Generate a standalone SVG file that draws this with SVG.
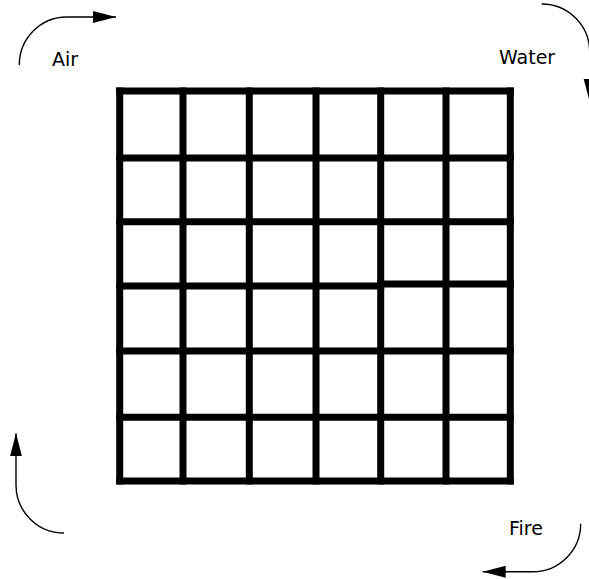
<svg xmlns="http://www.w3.org/2000/svg" width="589" height="579" viewBox="0 0 589 579">
<style>
.grid{stroke:#000;stroke-width:7;fill:none;stroke-linecap:square}
.arrow{stroke:#000;stroke-width:1.4;fill:none;marker-end:url(#ah)}
.label{font-family:"DejaVu Sans",sans-serif;font-size:19px;fill:#000}
</style>
<defs>
<marker id="ah" markerUnits="userSpaceOnUse" markerWidth="24" markerHeight="14" refX="23" refY="6.5" orient="auto">
<path d="M0,0.5 L23,6.5 L0,12.5 Z" fill="#000"/>
</marker>
</defs>
<rect width="589" height="579" fill="#fff"/>
<g id="grid" class="grid">
<path d="M119.7,91 V481 M183,91 V481 M249.3,91 V481 M316,91 V481 M380.7,91 V481 M446,91 V481 M510.3,91 V481"/>
<path d="M119.7,91 H510.3 M119.7,158 H510.3 M119.7,221.7 H510.3 M119.7,286 H380.7 M380.7,284 H510.3 M119.7,351 H510.3 M119.7,417.3 H510.3 M119.7,481 H510.3"/>
</g>
<g id="connectors">
<path id="arrow-air" class="arrow" d="M19.3,65 A47.4,48 0 0 1 66.7,17 H116"/>
<path id="arrow-water" class="arrow" d="M541.7,4 A48,48 0 0 1 589.7,52 V102"/>
<path id="arrow-fire" class="arrow" d="M580.7,523.7 A48,48 0 0 1 532.7,571.7 H482.7"/>
<path id="arrow-earth" class="arrow" d="M64,533 A48,48 0 0 1 16,485 V433.3"/>
</g>
<g id="label-air"><text class="label" x="52" y="66">Air</text></g>
<g id="label-water"><text class="label" x="499" y="64">Water</text></g>
<g id="label-fire"><text class="label" x="509" y="535">Fire</text></g>
</svg>
